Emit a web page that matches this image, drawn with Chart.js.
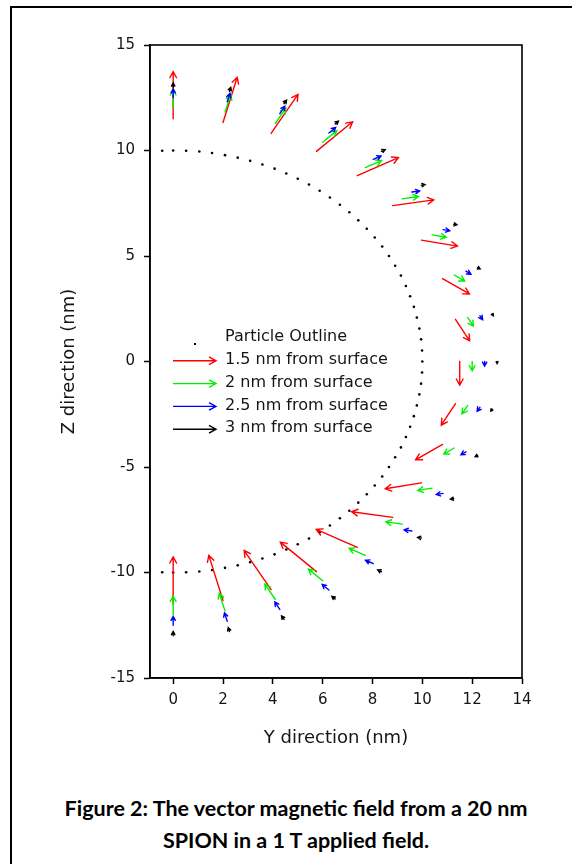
<!DOCTYPE html>
<html>
<head>
<meta charset="utf-8">
<script src="https://cdn.jsdelivr.net/npm/chart.js@4.4.0/dist/chart.umd.min.js"></script>
<style>
  html, body { margin: 0; padding: 0; background: #fff; overflow: hidden; }
  body { width: 572px; height: 864px; position: relative; }
  #frame { position: absolute; left: 10px; top: 6px; width: 620px; height: 900px; border: 2px solid #000; box-sizing: border-box; }
  #c { position: absolute; left: 0; top: 0; }
  #caption { position: absolute; left: 20px; top: 792px; width: 552px; text-align: center;
    font-family: Lato, "Open Sans", sans-serif; font-weight: 700; font-size: 21.5px; line-height: 32px; color: #000; }
</style>
</head>
<body>
<div id="frame"></div>
<canvas id="c" width="572" height="770"></canvas>
<div id="caption">Figure 2: The vector magnetic field from a 20 nm<br>SPION in a 1 T applied field.</div>
<script>
// tick labels
const xTicks = [0, 2, 4, 6, 8, 10, 12, 14];
const zTicks = [-15, -10, -5, 0, 5, 10, 15];

// particle outline (r = 10 nm)
const outlineY = [-0.44, 0, 0.52, 1.05, 1.56, 2.08, 2.59, 3.09, 3.58, 4.07, 4.54, 5.00, 5.45, 5.88, 6.29, 6.69,
  7.07, 7.43, 7.77, 8.09, 8.39, 8.66, 8.91, 9.14, 9.34, 9.51, 9.66, 9.78, 9.88, 9.95, 9.99, 10,
  9.99, 9.95, 9.88, 9.78, 9.66, 9.51, 9.34, 9.14, 8.91, 8.66, 8.39, 8.09, 7.77, 7.43, 7.07,
  6.69, 6.29, 5.88, 5.45, 5.00, 4.54, 4.07, 3.58, 3.09, 2.59, 2.08, 1.56, 1.05, 0.52, 0, -0.44];
const outlineZ = [9.99, 10, 9.99, 9.95, 9.88, 9.78, 9.66, 9.51, 9.34, 9.14, 8.91, 8.66, 8.39, 8.09, 7.77, 7.43,
  7.07, 6.69, 6.29, 5.88, 5.45, 5.00, 4.54, 4.07, 3.58, 3.09, 2.59, 2.08, 1.56, 1.05, 0.52, 0,
  -0.52, -1.05, -1.56, -2.08, -2.59, -3.09, -3.58, -4.07, -4.54, -5.00, -5.45, -5.88, -6.29, -6.69, -7.07,
  -7.43, -7.77, -8.09, -8.39, -8.66, -8.91, -9.14, -9.34, -9.51, -9.66, -9.78, -9.88, -9.95, -9.99, -10, -9.99];

// 1.5 nm from surface (tail position + vector)
const redY = [0, 2.00, 3.93, 5.75, 7.39, 8.81, 9.96, 10.81, 11.33, 11.5, 11.33, 10.81, 9.96, 8.81, 7.39, 5.75, 3.93, 2.00, 0];
const redZ = [11.5, 11.33, 10.81, 9.96, 8.81, 7.39, 5.75, 3.93, 2.00, 0, -2.00, -3.93, -5.75, -7.39, -8.81, -9.96, -10.81, -11.33, -11.5];
const redDY = [0, 0.57, 1.08, 1.45, 1.65, 1.65, 1.45, 1.08, 0.57, 0, -0.57, -1.08, -1.45, -1.65, -1.65, -1.45, -1.08, -0.57, 0];
const redDZ = [2.24, 2.14, 1.85, 1.40, 0.85, 0.27, -0.28, -0.73, -1.02, -1.12, -1.02, -0.73, -0.28, 0.27, 0.85, 1.40, 1.85, 2.14, 2.24];

// 2 nm from surface
const greenY = [0, 2.08, 4.10, 6.00, 7.71, 9.19, 10.39, 11.28, 11.82, 12, 11.82, 11.28, 10.39, 9.19, 7.71, 6.00, 4.10, 2.08, 0];
const greenZ = [12, 11.82, 11.28, 10.39, 9.19, 7.71, 6.00, 4.10, 2.08, 0, -2.08, -4.10, -6.00, -7.71, -9.19, -10.39, -11.28, -11.82, -12];
const greenDY = [0, 0.23, 0.42, 0.57, 0.65, 0.65, 0.57, 0.42, 0.23, 0, -0.23, -0.42, -0.57, -0.65, -0.65, -0.57, -0.42, -0.23, 0];
const greenDZ = [0.88, 0.84, 0.73, 0.55, 0.33, 0.11, -0.11, -0.29, -0.40, -0.44, -0.40, -0.29, -0.11, 0.11, 0.33, 0.55, 0.73, 0.84, 0.88];

// 2.5 nm from surface
const blueY = [0, 2.17, 4.28, 6.25, 8.03, 9.58, 10.83, 11.75, 12.31, 12.5, 12.31, 11.75, 10.83, 9.58, 8.03, 6.25, 4.28, 2.17, 0];
const blueZ = [12.5, 12.31, 11.75, 10.83, 9.58, 8.03, 6.25, 4.28, 2.17, 0, -2.17, -4.28, -6.25, -8.03, -9.58, -10.83, -11.75, -12.31, -12.5];
const blueDY = [0, 0.11, 0.20, 0.27, 0.31, 0.31, 0.27, 0.20, 0.11, 0, -0.11, -0.20, -0.27, -0.31, -0.31, -0.27, -0.20, -0.11, 0];
const blueDZ = [0.42, 0.40, 0.35, 0.26, 0.16, 0.05, -0.05, -0.14, -0.19, -0.21, -0.19, -0.14, -0.05, 0.05, 0.16, 0.26, 0.35, 0.40, 0.42];

// 3 nm from surface
const blackY = [0, 2.26, 4.45, 6.50, 8.36, 9.96, 11.26, 12.22, 12.80, 13, 12.80, 12.22, 11.26, 9.96, 8.36, 6.50, 4.45, 2.26, 0];
const blackZ = [13, 12.80, 12.22, 11.26, 9.96, 8.36, 6.50, 4.45, 2.26, 0, -2.26, -4.45, -6.50, -8.36, -9.96, -11.26, -12.22, -12.80, -13];
const blackDY = [0, 0.05, 0.10, 0.13, 0.15, 0.15, 0.13, 0.10, 0.05, 0, -0.05, -0.10, -0.13, -0.15, -0.15, -0.13, -0.10, -0.05, 0];
const blackDZ = [0.20, 0.19, 0.16, 0.13, 0.08, 0.02, -0.02, -0.06, -0.09, -0.10, -0.09, -0.06, -0.02, 0.02, 0.08, 0.13, 0.16, 0.19, 0.20];

const FONT = 'DejaVu Sans';
const TXT = '#151515';

function pts(ys, zs) {
  return ys.map((v, i) => ({ x: v, y: zs[i] }));
}

function arrowSet(label, color, ys, zs, dys, dzs, head) {
  return {
    label: label,
    data: pts(ys, zs),
    borderColor: color,
    backgroundColor: color,
    pointRadius: 0,
    showLine: false,
    arrowDY: dys,
    arrowDZ: dzs,
    headSize: head
  };
}

function drawArrow(ctx, x0, y0, x1, y1, color, head) {
  const len = Math.hypot(x1 - x0, y1 - y0);
  if (len < 0.5) return;
  const a = Math.atan2(y1 - y0, x1 - x0);
  const h = Math.min(head, len);
  ctx.strokeStyle = color;
  ctx.lineWidth = 1.4;
  ctx.beginPath();
  ctx.moveTo(x0, y0);
  ctx.lineTo(x1, y1);
  ctx.moveTo(x1 - h * Math.cos(a - 0.5), y1 - h * Math.sin(a - 0.5));
  ctx.lineTo(x1, y1);
  ctx.lineTo(x1 - h * Math.cos(a + 0.5), y1 - h * Math.sin(a + 0.5));
  ctx.stroke();
}

// vectors drawn from the tail through the axis scales
const arrowPlugin = {
  id: 'arrows',
  afterDatasetsDraw(chart) {
    const { ctx } = chart;
    const sx = chart.scales.x, sy = chart.scales.y;
    ctx.save();
    ctx.lineCap = 'round';
    chart.data.datasets.forEach(ds => {
      if (!ds.arrowDY) return;
      ds.data.forEach((p, i) => {
        const x0 = sx.getPixelForValue(p.x), y0 = sy.getPixelForValue(p.y);
        const x1 = sx.getPixelForValue(p.x + ds.arrowDY[i]);
        const y1 = sy.getPixelForValue(p.y + ds.arrowDZ[i]);
        drawArrow(ctx, x0, y0, x1, y1, ds.borderColor, ds.headSize);
      });
    });
    ctx.restore();
  }
};

// box round the plot and the legend inside it
const boxPlugin = {
  id: 'box',
  afterDraw(chart) {
    const { ctx, chartArea: a } = chart;
    ctx.save();
    ctx.strokeStyle = '#000';
    ctx.lineWidth = 1.6;
    ctx.strokeRect(a.left, a.top, a.right - a.left, a.bottom - a.top);

    const tx = a.left + 75;
    const y0 = a.top + 292;
    const step = 22.8;
    ctx.font = '16px "' + FONT + '"';
    ctx.fillStyle = TXT;
    ctx.textBaseline = 'middle';
    chart.data.datasets.forEach((ds, i) => {
      const ry = y0 + i * step;
      ctx.fillStyle = TXT;
      ctx.fillText(ds.label, tx, ry);
      if (i === 0) {
        ctx.fillStyle = '#000';
        ctx.fillRect(a.left + 44, ry + 6, 2, 2);
      } else {
        drawArrow(ctx, a.left + 23, ry + 1, a.left + 66, ry + 1, ds.borderColor, 8);
      }
    });
    ctx.restore();
  }
};

const ctx = document.getElementById('c');
const chart = new Chart(ctx, {
  type: 'scatter',
  data: {
    datasets: [
      {
        label: 'Particle Outline',
        data: pts(outlineY, outlineZ),
        pointRadius: 1.3,
        pointBorderWidth: 0,
        pointBackgroundColor: '#000',
        showLine: false
      },
      arrowSet('1.5 nm from surface', '#ff0000', redY, redZ, redDY, redDZ, 7),
      arrowSet('2 nm from surface', '#00f000', greenY, greenZ, greenDY, greenDZ, 6),
      arrowSet('2.5 nm from surface', '#0000ff', blueY, blueZ, blueDY, blueDZ, 4.5),
      arrowSet('3 nm from surface', '#000000', blackY, blackZ, blackDY, blackDZ, 3.5)
    ]
  },
  options: {
    responsive: false,
    animation: false,
    devicePixelRatio: 1,
    layout: { padding: { top: 45, right: 50, left: 0, bottom: 0 } },
    plugins: {
      legend: { display: false },
      tooltip: { enabled: false }
    },
    scales: {
      x: {
        type: 'linear',
        min: -0.93,
        max: 14,
        afterFit: s => { s.height = 92; },
        afterBuildTicks: s => { s.ticks = xTicks.map(v => ({ value: v })); },
        grid: { drawOnChartArea: false, drawTicks: true, tickLength: 6, tickColor: '#000', tickWidth: 1.5 },
        border: { color: '#000', width: 1.6 },
        ticks: { font: { family: FONT, size: 15 }, color: TXT, padding: 7, maxRotation: 0 },
        title: {
          display: true,
          text: 'Y direction (nm)',
          font: { family: FONT, size: 18 },
          color: TXT,
          padding: { top: 0, bottom: 21 }
        }
      },
      y: {
        type: 'linear',
        min: -15,
        max: 15,
        afterFit: s => { s.width = 150; },
        afterBuildTicks: s => { s.ticks = zTicks.map(v => ({ value: v })); },
        grid: { drawOnChartArea: false, drawTicks: true, tickLength: 6, tickColor: '#000', tickWidth: 1.5 },
        border: { color: '#000', width: 1.6 },
        ticks: { font: { family: FONT, size: 15 }, color: TXT, padding: 9 },
        title: {
          display: true,
          text: 'Z direction (nm)',
          font: { family: FONT, size: 18 },
          color: TXT,
          padding: { top: 59, bottom: 0 }
        }
      }
    }
  },
  plugins: [arrowPlugin, boxPlugin]
});
</script>
</body>
</html>
